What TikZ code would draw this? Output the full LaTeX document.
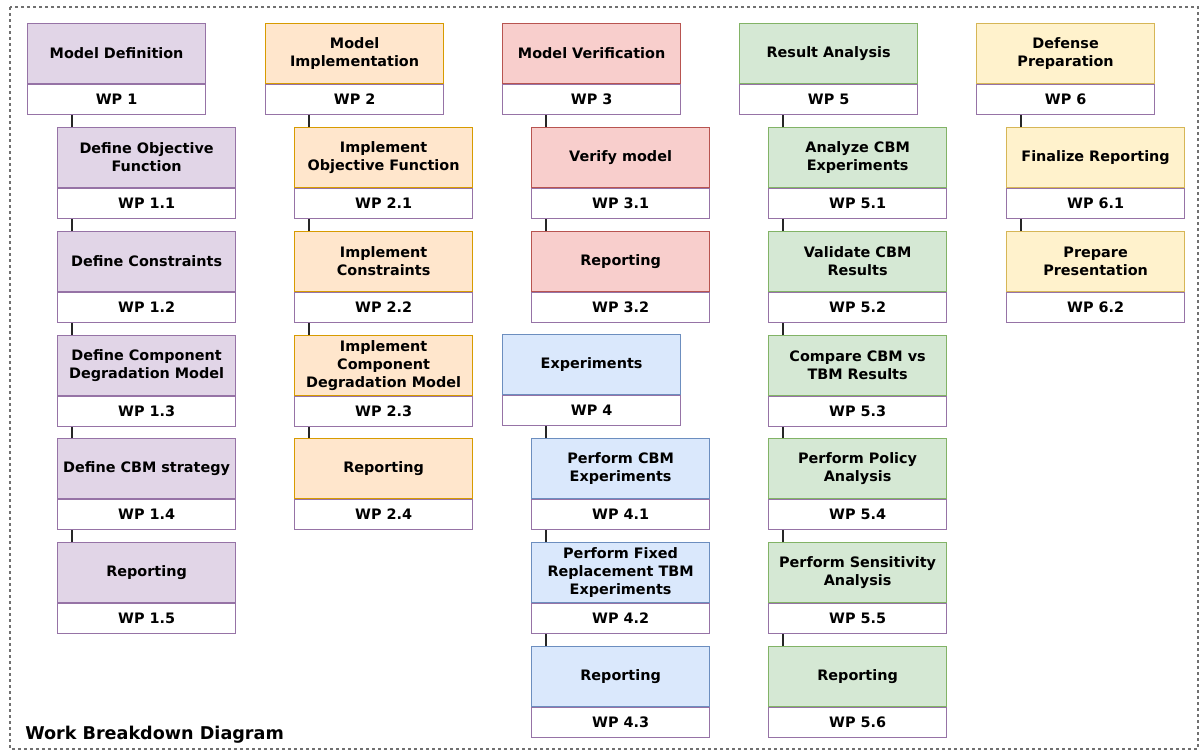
\documentclass[tikz,border=0pt]{standalone}
\usepackage{fontspec}
\setmainfont{DejaVu Sans}
\usetikzlibrary{calc}

% fill and stroke colours of the work packages
\definecolor{purpfill}{HTML}{E1D5E7}\definecolor{purpline}{HTML}{9673A6}
\definecolor{orfill}{HTML}{FFE6CC}\definecolor{orline}{HTML}{D79B00}
\definecolor{redfill}{HTML}{F8CECC}\definecolor{redline}{HTML}{B85450}
\definecolor{bluefill}{HTML}{DAE8FC}\definecolor{blueline}{HTML}{6C8EBF}
\definecolor{grnfill}{HTML}{D5E8D4}\definecolor{grnline}{HTML}{82B366}
\definecolor{yelfill}{HTML}{FFF2CC}\definecolor{yelline}{HTML}{D6B656}
\definecolor{framegray}{HTML}{707070}

\tikzset{
  titlebox/.style={rectangle, inner sep=0pt, minimum width=133.5pt, minimum height=45pt,
    line width=0.9pt, align=center, font=\fontsize{10.8}{13.5}\selectfont\bfseries},
  wpnum/.style={rectangle, draw=purpline, fill=white, inner sep=0pt, minimum width=133.5pt,
    minimum height=22pt, line width=0.9pt, font=\fontsize{10.8}{13.5}\selectfont\bfseries},
  purp/.style={draw=purpline, fill=purpfill},
  orng/.style={draw=orline, fill=orfill},
  redd/.style={draw=redline, fill=redfill},
  blue/.style={draw=blueline, fill=bluefill},
  grn/.style={draw=grnline, fill=grnfill},
  yel/.style={draw=yelline, fill=yelfill},
  link/.style={line width=0.8pt, draw=black!85}
}

% one work package: name, top left corner, colour style, title, number
\newcommand{\wpack}[5]{%
  \node[titlebox, #3, anchor=north west] (#1) at (#2) {#4};
  \node[wpnum, anchor=north] (#1-wp) at (#1.south) {#5};
}

\begin{document}
\begin{tikzpicture}[x=0.75pt, y=-0.75pt]

    \useasboundingbox (0,0) rectangle (1200,751);

    % dotted frame round the whole diagram
    \draw[framegray, line width=1.6pt, dash pattern=on 2pt off 2.5pt] (10,7) rectangle (1198,749);

    % WP 1
    \wpack{p1}{27,23}{purp}{Model Definition}{WP 1}
    \wpack{c11}{57,127}{purp}{Define Objective\\Function}{WP 1.1}
    \wpack{c12}{57,231}{purp}{Define Constraints}{WP 1.2}
    \wpack{c13}{57,335}{purp}{Define Component\\Degradation Model}{WP 1.3}
    \wpack{c14}{57,438}{purp}{Define CBM strategy}{WP 1.4}
    \wpack{c15}{57,542}{purp}{Reporting}{WP 1.5}

    % WP 2
    \wpack{p2}{265,23}{orng}{Model\\Implementation}{WP 2}
    \wpack{c21}{294,127}{orng}{Implement\\Objective Function}{WP 2.1}
    \wpack{c22}{294,231}{orng}{Implement\\Constraints}{WP 2.2}
    \wpack{c23}{294,335}{orng}{Implement\\Component\\Degradation Model}{WP 2.3}
    \wpack{c24}{294,438}{orng}{Reporting}{WP 2.4}

    % WP 3
    \wpack{p3}{502,23}{redd}{Model Verification}{WP 3}
    \wpack{c31}{531,127}{redd}{Verify model}{WP 3.1}
    \wpack{c32}{531,231}{redd}{Reporting}{WP 3.2}

    % WP 4
    \wpack{p4}{502,334}{blue}{Experiments}{WP 4}
    \wpack{c41}{531,438}{blue}{Perform CBM\\Experiments}{WP 4.1}
    \wpack{c42}{531,542}{blue}{Perform Fixed\\Replacement TBM\\Experiments}{WP 4.2}
    \wpack{c43}{531,646}{blue}{Reporting}{WP 4.3}

    % WP 5
    \wpack{p5}{739,23}{grn}{Result Analysis}{WP 5}
    \wpack{c51}{768,127}{grn}{Analyze CBM\\Experiments}{WP 5.1}
    \wpack{c52}{768,231}{grn}{Validate CBM\\Results}{WP 5.2}
    \wpack{c53}{768,335}{grn}{Compare CBM vs\\TBM Results}{WP 5.3}
    \wpack{c54}{768,438}{grn}{Perform Policy\\Analysis}{WP 5.4}
    \wpack{c55}{768,542}{grn}{Perform Sensitivity\\Analysis}{WP 5.5}
    \wpack{c56}{768,646}{grn}{Reporting}{WP 5.6}

    % WP 6
    \wpack{p6}{976,23}{yel}{Defense\\Preparation}{WP 6}
    \wpack{c61}{1006,127}{yel}{Finalize Reporting}{WP 6.1}
    \wpack{c62}{1006,231}{yel}{Prepare\\Presentation}{WP 6.2}

    % connectors down each column
    \foreach \up/\down in {p1/c11, c11/c12, c12/c13, c13/c14, c14/c15,
                           p2/c21, c21/c22, c22/c23, c23/c24,
                           p3/c31, c31/c32,
                           p4/c41, c41/c42, c42/c43,
                           p5/c51, c51/c52, c52/c53, c53/c54, c54/c55, c55/c56,
                           p6/c61, c61/c62}
      \draw[link] ([xshift=11.25pt]\down.north west) -- ([xshift=11.25pt]\down.north west |- \up-wp.south);

    % caption
    \node[anchor=west, inner sep=0pt, font=\fontsize{13.2}{15}\selectfont\bfseries] (caption) at (25,735) {Work Breakdown Diagram};

\end{tikzpicture}
\end{document}
